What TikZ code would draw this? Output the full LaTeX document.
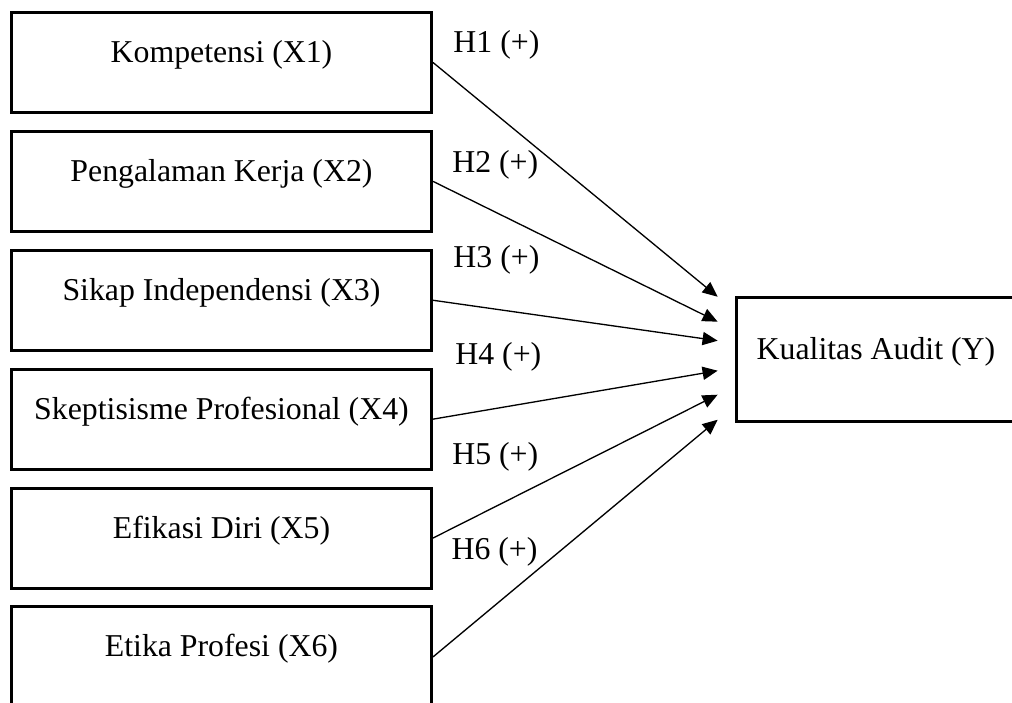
\documentclass[tikz,border=0pt]{standalone}
\usepackage{fontspec}
\setmainfont{Liberation Serif}
\usetikzlibrary{positioning, calc, arrows.meta}

\begin{document}
\begin{tikzpicture}[
    every node/.style={font=\fontsize{12}{14.4}\selectfont},
    varbox/.style={rectangle, draw, line width=1.1pt, inner sep=0pt, minimum width=55.7mm, text height=6.63mm, text depth=6.63mm},
    outcomebox/.style={varbox, minimum width=37.1mm, text height=8.22mm, text depth=8.22mm},
    hypothesis/.style={anchor=base west, inner sep=0pt},
    link/.style={-{Triangle[length=2mm, width=1.75mm]}, line width=0.5pt}
]

% Independent variables
\node[varbox] (var_x1) {Kompetensi (X1)};
\node[varbox, below=2.12mm of var_x1] (var_x2) {Pengalaman Kerja (X2)};
\node[varbox, below=2.12mm of var_x2] (var_x3) {Sikap Independensi (X3)};
\node[varbox, below=2.12mm of var_x3] (var_x4) {Skeptisisme Profesional (X4)};
\node[varbox, below=2.12mm of var_x4] (var_x5) {Efikasi Diri (X5)};
\node[varbox, below=2.12mm of var_x5] (var_x6) {Etika Profesi (X6)};

% Dependent variable
\coordinate (var_mid) at ($(var_x3.east)!0.5!(var_x4.east)$);
\node[outcomebox, right=40mm of var_mid] (var_y) {Kualitas Audit (Y)};

% arrow ends
\coordinate (var_y_in1) at ([shift={(-2.25mm,8.35mm)}]var_y.west);
\coordinate (var_y_in2) at ([shift={(-2.25mm,5.04mm)}]var_y.west);
\coordinate (var_y_in3) at ([shift={(-2.25mm,2.52mm)}]var_y.west);
\coordinate (var_y_in4) at ([shift={(-2.25mm,-1.46mm)}]var_y.west);
\coordinate (var_y_in5) at ([shift={(-2.25mm,-4.64mm)}]var_y.west);
\coordinate (var_y_in6) at ([shift={(-2.25mm,-7.96mm)}]var_y.west);

% Hypotheses
\node[hypothesis] (hyp_h1) at ([shift={(2.65mm,1.26mm)}]var_x1.east) {H1 (+)};
\node[hypothesis] (hyp_h2) at ([shift={(2.5mm,1.13mm)}]var_x2.east) {H2 (+)};
\node[hypothesis] (hyp_h3) at ([shift={(2.65mm,4.31mm)}]var_x3.east) {H3 (+)};
\node[hypothesis] (hyp_h4) at ([shift={(2.9mm,7.23mm)}]var_x4.east) {H4 (+)};
\node[hypothesis] (hyp_h5) at ([shift={(2.5mm,9.75mm)}]var_x5.east) {H5 (+)};
\node[hypothesis] (hyp_h6) at ([shift={(2.4mm,12.93mm)}]var_x6.east) {H6 (+)};

% hypothesis edges
\draw[link] (var_x1.east) -- (var_y_in1);
\draw[link] (var_x2.east) -- (var_y_in2);
\draw[link] (var_x3.east) -- (var_y_in3);
\draw[link] (var_x4.east) -- (var_y_in4);
\draw[link] (var_x5.east) -- (var_y_in5);
\draw[link] (var_x6.east) -- (var_y_in6);

% Page
\pgfresetboundingbox
\useasboundingbox ([shift={(-1.33mm,1.46mm)}]var_x1.north west) rectangle ++(134.2mm,-93.2mm);

\end{tikzpicture}
\end{document}
